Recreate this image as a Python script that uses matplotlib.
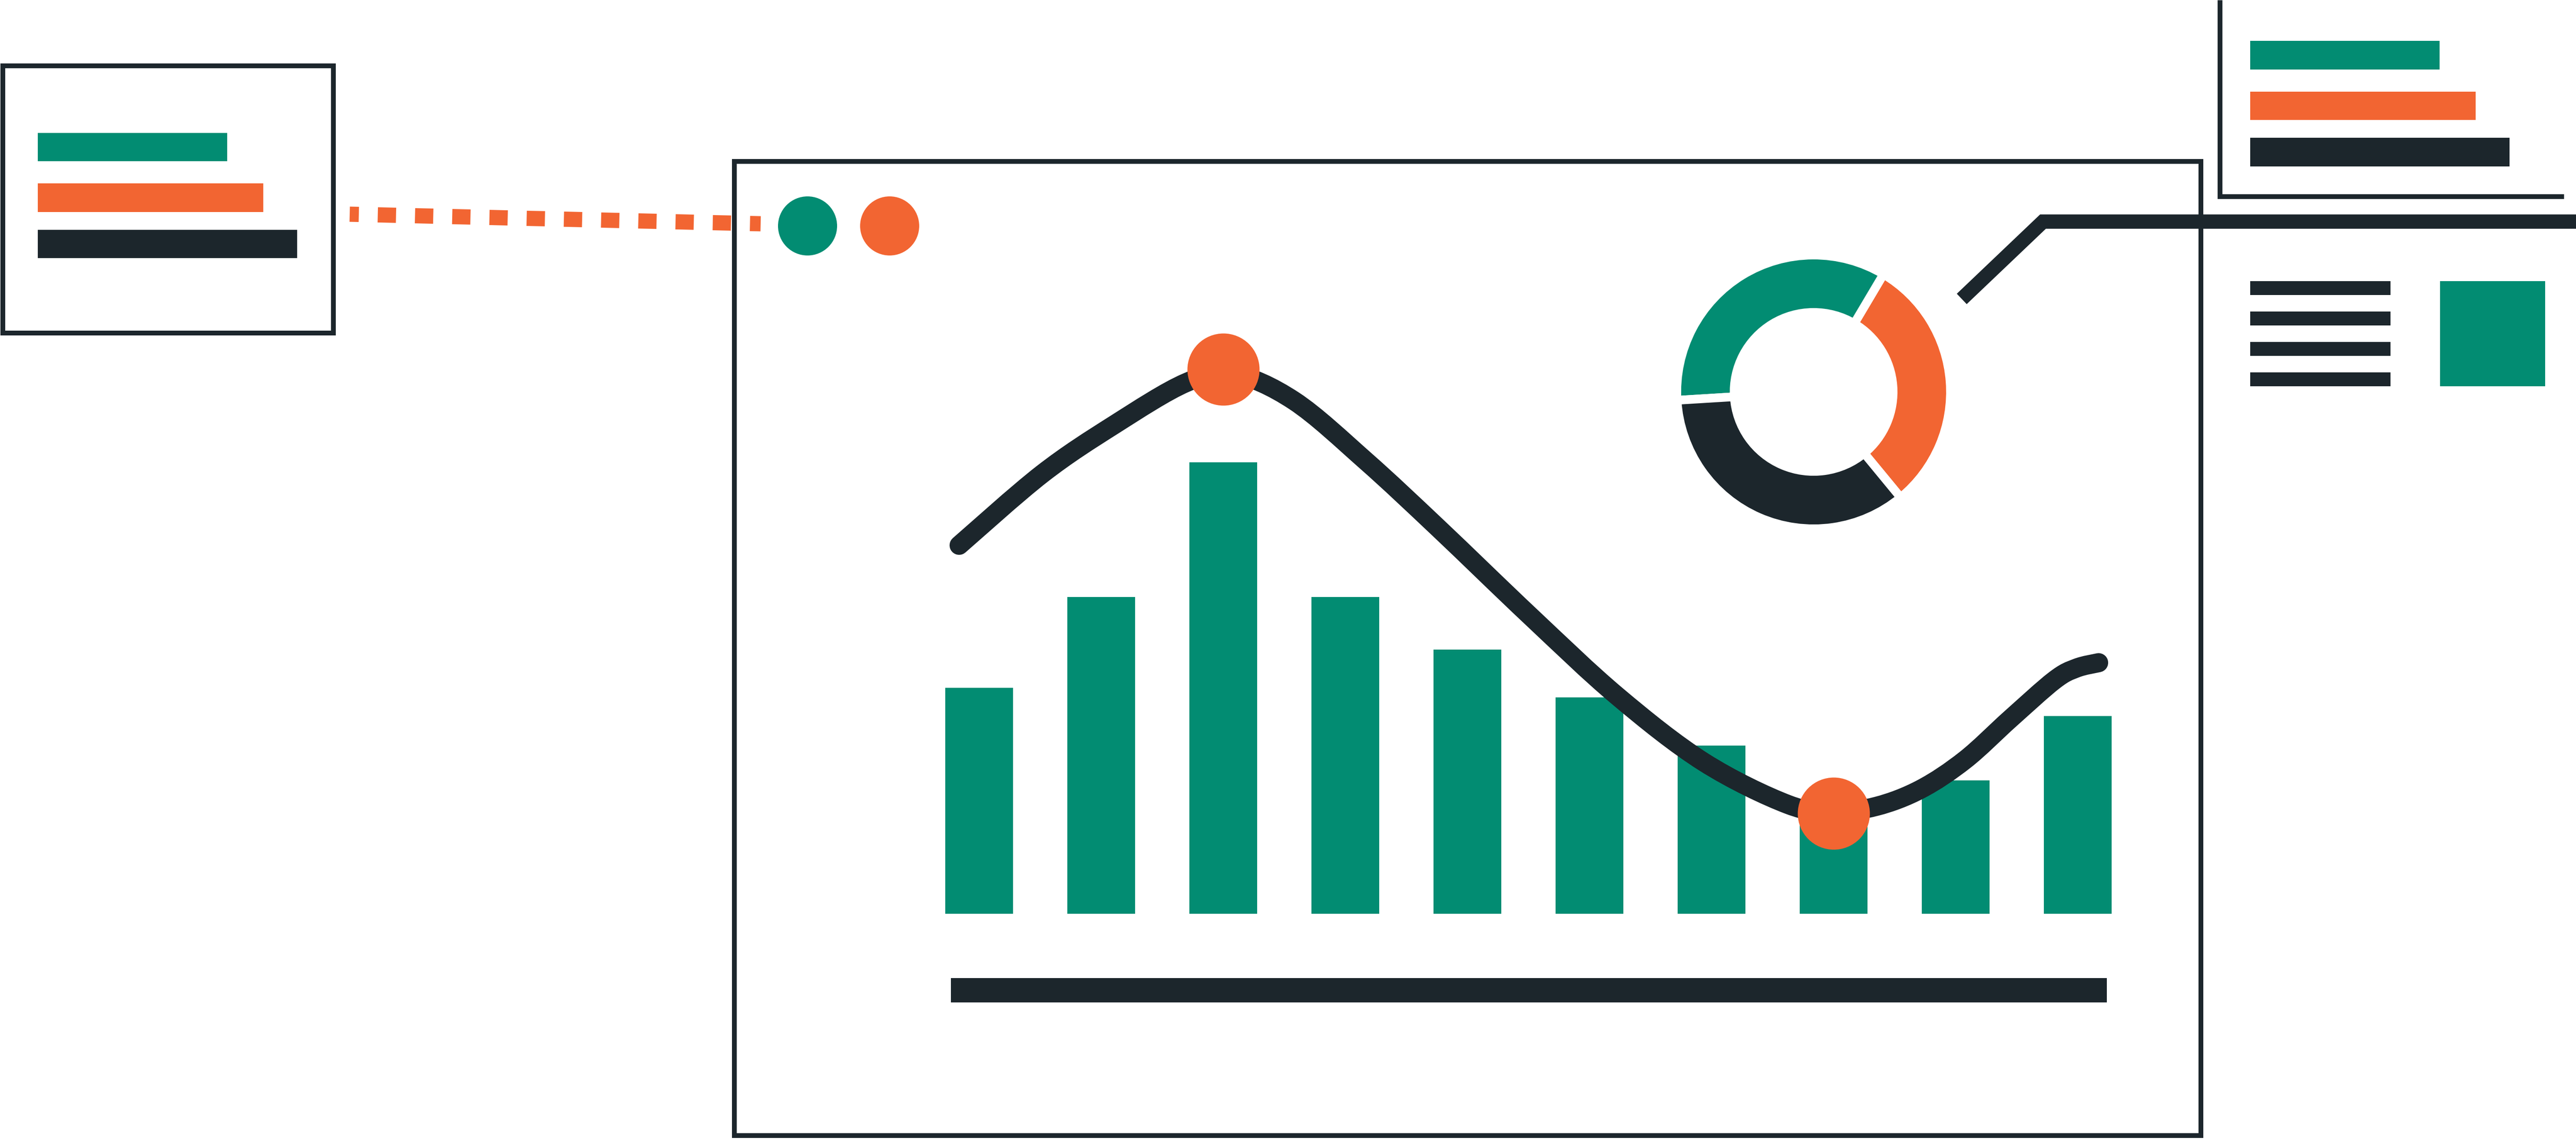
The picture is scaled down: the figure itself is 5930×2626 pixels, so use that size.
import matplotlib
matplotlib.use("Agg")
import matplotlib.pyplot as plt
from matplotlib.patches import Rectangle, Circle, PathPatch
from matplotlib.path import Path

plt.rcParams['lines.scale_dashes'] = False

TEAL = "#028C72"
ORANGE = "#F26532"
DARK = "#1C262C"

# ---------------- data ----------------
bar_categories = [0, 1, 2, 3, 4, 5, 6, 7, 8, 9]
bar_values = [50.0, 70.1, 100.0, 70.1, 58.5, 47.9, 37.2, 23.4, 29.5, 43.8]

line_x = [-0.164, 0.516, 1.107, 1.694, 2.078, 2.580, 3.171, 3.762, 4.520, 5.228,
          5.936, 6.626, 7.000, 7.352, 7.715, 8.078, 8.445, 8.808, 8.989, 9.171]
line_y = [81.6, 97.4, 108.3, 117.6, 119.6, 113.6, 100.2, 85.4, 65.8, 48.2,
          33.6, 24.2, 22.6, 23.8, 27.6, 34.1, 43.1, 51.7, 54.4, 55.6]

highlight_x = [2.0, 7.0]
highlight_y = [120.6, 22.2]

donut_labels = ["orange", "teal", "dark"]
donut_values = [30.5, 34.5, 35.0]

legend_bar_values = [73, 87, 100]

# ---------------- figure ----------------
W, H = 5930, 2626
DPI = 100
PT = 72.0 / DPI  # points per pixel
fig = plt.figure(figsize=(W / DPI, H / DPI), dpi=DPI)
fig.patch.set_facecolor("white")


def px_axes(x0, y0, x1, y1):
    return fig.add_axes([x0 / W, 1 - y1 / H, (x1 - x0) / W, (y1 - y0) / H])


def smooth_path(xs, ys):
    """Catmull-Rom style cubic Bezier path through the given points."""
    pts = list(zip(xs, ys))
    n = len(pts)
    verts = [pts[0]]
    codes = [Path.MOVETO]
    for i in range(n - 1):
        p0 = pts[i - 1] if i > 0 else pts[i]
        p1 = pts[i]
        p2 = pts[i + 1]
        p3 = pts[i + 2] if i + 2 < n else pts[i + 1]
        c1 = (p1[0] + (p2[0] - p0[0]) / 6.0, p1[1] + (p2[1] - p0[1]) / 6.0)
        c2 = (p2[0] - (p3[0] - p1[0]) / 6.0, p2[1] - (p3[1] - p1[1]) / 6.0)
        verts += [c1, c2, p2]
        codes += [Path.CURVE4] * 3
    return Path(verts, codes)


# background / decorative layer in pixel coordinates
bg = px_axes(0, 0, W, H)
bg.set_xlim(0, W)
bg.set_ylim(H, 0)
bg.axis("off")

# left card frame
bg.add_patch(Rectangle((5.5, 150.5), 761, 615, fill=False, edgecolor=DARK, lw=11 * PT))
# dotted connector
bg.plot([805, 1751], [493, 515], color=ORANGE, lw=35 * PT,
        linestyle=(21 * PT, (42 * PT, 43.7 * PT)), dash_capstyle="butt")
# main frame
bg.add_patch(Rectangle((1689.5, 370.5), 3376, 2242, fill=False, edgecolor=DARK, lw=11 * PT))
# legend dots
bg.add_patch(Circle((1859, 520), 68, color=TEAL, lw=0))
bg.add_patch(Circle((2048, 520), 68, color=ORANGE, lw=0))
# baseline bar
bg.add_patch(Rectangle((2189, 2251), 2661, 56, color=DARK, lw=0))
# top-right L frame
bg.plot([5109.5, 5109.5, 5902], [0, 451.5, 451.5], color=DARK, lw=11 * PT,
        solid_joinstyle="miter", solid_capstyle="butt")
# donut connector
bg.plot([4516, 4703, 5960], [688, 510, 510], color=DARK, lw=33 * PT,
        solid_joinstyle="miter", solid_capstyle="butt")
# right text lines + square
for top in [647, 717, 787, 857]:
    bg.add_patch(Rectangle((5180, top), 323, 32, color=DARK, lw=0))
bg.add_patch(Rectangle((5617, 647), 242, 242, color=TEAL, lw=0))

# mini bar charts (left card, top right); rows placed at pixel centres
for x0, centers in [(87, [338.5, 455.0, 561.5]), (5180, [127.0, 243.5, 350.0])]:
    top, bottom = centers[0] - 60, centers[-1] + 60
    mx = px_axes(x0, top, x0 + 597, bottom)
    mx.barh(centers, legend_bar_values, height=65.5, color=[TEAL, ORANGE, DARK])
    mx.set_xlim(0, 100)
    mx.set_ylim(bottom, top)
    mx.axis("off")

# main chart
ax = px_axes(2113.5, 752, 4923.5, 2103)
ax.bar(bar_categories, bar_values, width=0.552, color=TEAL, zorder=2)
curve = PathPatch(smooth_path(line_x, line_y), fill=False, edgecolor=DARK,
                  lw=44 * PT, zorder=3, clip_on=False)
curve.set_capstyle("round")
curve.set_joinstyle("round")
ax.add_patch(curve)
ax.plot(highlight_x, highlight_y, "o", ms=166 * PT, color=ORANGE, mec="none",
        zorder=4, clip_on=False)
ax.set_xlim(-0.5, 9.5)
ax.set_ylim(0, 130)
ax.axis("off")

# donut
dx = px_axes(4175 - 350, 902 - 350, 4175 + 350, 902 + 350)
dx.pie(donut_values, colors=[ORANGE, TEAL, DARK], startangle=-50.5, counterclock=True,
       radius=315, wedgeprops=dict(width=132, edgecolor="white", linewidth=20 * PT))
dx.set_xlim(-350, 350)
dx.set_ylim(-350, 350)
dx.set_aspect("equal")
dx.axis("off")

fig.savefig("out.png", dpi=DPI, facecolor="white")
